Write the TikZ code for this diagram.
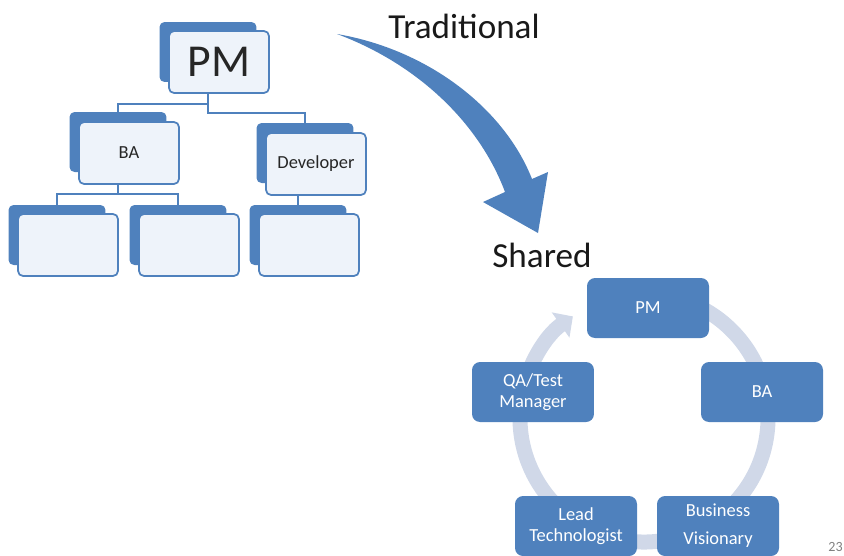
\documentclass[tikz,border=0pt]{standalone}
\usepackage{fontspec}
\setmainfont{Carlito}
\usetikzlibrary{arrows.meta}
\definecolor{accent}{HTML}{4F81BD}
\definecolor{paleblue}{HTML}{EEF3FA}
\definecolor{ringblue}{HTML}{D0D8E8}
\definecolor{inkgray}{HTML}{262626}

\begin{document}
\begin{tikzpicture}[x=0.02cm, y=-0.02cm,
	back/.style={draw=none, fill=accent, rounded corners=0.1cm, minimum width=1.94cm, minimum height=1.2cm},
	front/.style={draw=accent, line width=1pt, fill=paleblue, rounded corners=0.1cm, minimum width=2cm, minimum height=1.24cm, text=inkgray, font=\fontsize{10.5}{12}\selectfont},
	link/.style={draw=accent, line width=1.2pt},
	role/.style={draw=none, fill=accent, rounded corners=0.16cm, minimum width=2.44cm, minimum height=1.2cm, text=white, align=center, font=\fontsize{10.5}{12}\selectfont},
	title/.style={anchor=base west, inner sep=0pt, text=black!90, font=\fontsize{20}{24}\selectfont}]
				\useasboundingbox (0,0) rectangle (844,555);
				% traditional
				\node[back] (pm-back) at (208,52) {};
				\node[front, font=\fontsize{26}{30}\selectfont] (pm) at (219,62) {PM};
				\node[back] (ba-back) at (118,142) {};
				\node[front] (ba) at (129,153) {BA};
				\node[back] (dev-back) at (305,153) {};
				\node[front] (dev) at (316,164) {Developer};
				\foreach \x/\n in {57/la, 178/lb, 298/dv} {
					\node[back] (\n-back) at (\x,235) {};
					\node[front] (\n) at (\x+11,245) {};
				}
				\draw[link] (pm-back |- pm.south) -- ++(0,19) -| (dev-back.north);
				\draw[link] (pm-back |- pm.south) ++(0,10) -| (ba-back.north);
				\draw[link] (ba-back |- ba.south) -- ++(0,9) -| (la-back.north);
				\draw[link] (ba-back |- ba.south) ++(0,9) -| (lb-back.north);
				\draw[link] (dv-back |- dev.south) -- (dv-back.north);
				\fill[accent] (337,34) .. controls (430,50) and (505,110) .. (532,179) -- (548,172) -- (538,233)
					-- (483,202) -- (505,192) .. controls (480,125) and (420,65) .. (337,34) -- cycle;
				\node[title] (trad) at (388,38) {Traditional};
				% shared
				\node[title] (shared) at (492,267) {Shared};
				\coordinate (hub) at (644,418);
				\draw[ringblue, line width=0.3cm, -{Triangle[length=0.3cm, width=0.6cm]}] (hub) ++(280:124) arc[start angle=280, end angle=595, radius=124];
				\node[role] (s-pm) at (648,308) {PM};
				\node[role] (s-ba) at (762,392) {BA};
				\node[role] (s-qa) at (533,392) {QA/Test\\Manager};
				\node[role] (s-lt) at (576,526) {Lead\\Technologist};
				\node[role] (s-bv) at (718,526) {Business\\[4pt]Visionary};
				\node[anchor=base east, inner sep=0pt, text=gray, font=\fontsize{8}{10}\selectfont] (slide) at (843,551) {23};
			\end{tikzpicture}
\end{document}
